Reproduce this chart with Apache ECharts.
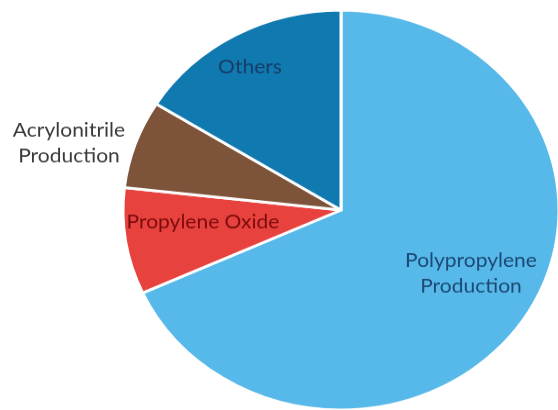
<!DOCTYPE html>
<html>
<head>
<meta charset="utf-8">
<script src="https://cdn.jsdelivr.net/npm/echarts@6/dist/echarts.min.js"></script>
<style>
  html, body { margin: 0; padding: 0; background: #fff; overflow: hidden; }
  /* the source picture is a slightly squashed pie, so squash the whole chart */
  #chart { width: 558px; height: 447px; transform: scaleY(0.9172); transform-origin: 0 0; }
</style>
</head>
<body>
<div id="chart"></div>
<script>
const categories = ['Polypropylene\nProduction', 'Propylene Oxide', 'Acrylonitrile\nProduction', 'Others'];
const shares = [68.2, 8.6, 7.1, 16.1];

const colors = ['#56b9ea', '#e8423f', '#7d5439', '#0f79b0'];
const labelColors = ['#1d4a74', '#7c0c0c', '#3a3a3a', '#173d68'];
// label spots in chart pixels (before the vertical squash)
const labelPos = [[471, 298], [203, 242], [69, 156], [250, 73]];

const chart = echarts.init(document.getElementById('chart'));

chart.setOption({
    animation: false,
    series: [{
        type: 'pie',
        center: [341, 229],
        radius: 218,
        startAngle: 90,
        clockwise: true,
        data: categories.map((c, i) => ({
            name: c,
            value: shares[i],
            itemStyle: {color: colors[i]},
            label: {color: labelColors[i]}
        })),
        itemStyle: {borderColor: '#ffffff', borderWidth: 3},
        label: {
            show: true,
            position: 'inside',
            formatter: '{b}',
            fontFamily: 'Lato',
            fontSize: 21,
            lineHeight: 28,
            align: 'center'
        },
        labelLine: {show: false},
        labelLayout: (p) => ({
            x: labelPos[p.dataIndex][0],
            y: labelPos[p.dataIndex][1],
            align: 'center',
            verticalAlign: 'middle'
        })
    }]
});
</script>
</body>
</html>
